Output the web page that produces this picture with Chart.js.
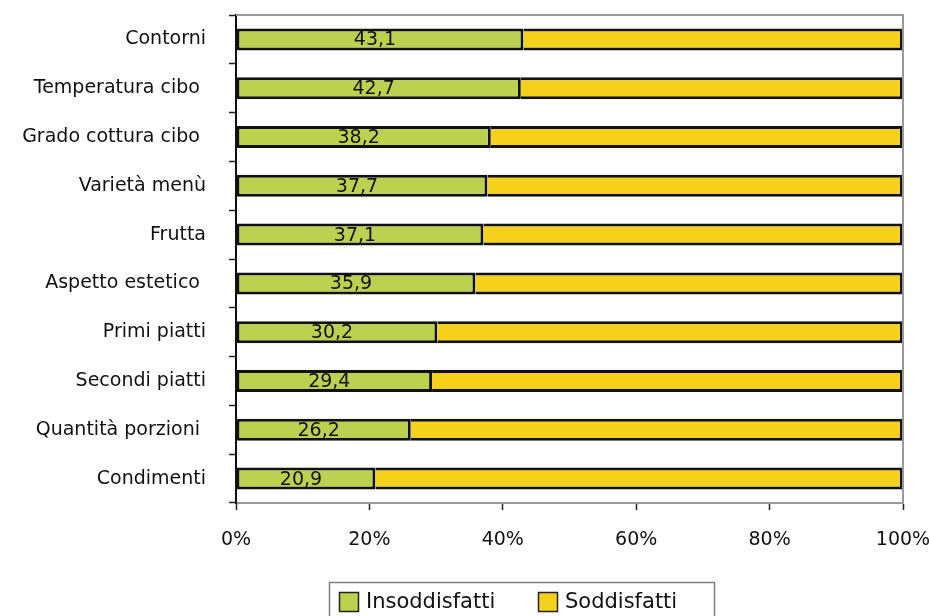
<!DOCTYPE html>
<html>
<head>
<meta charset="utf-8">
<script src="https://cdn.jsdelivr.net/npm/chart.js@4"></script>
<style>
    html, body { margin: 0; padding: 0; background: #fff; }
    #wrap { width: 929px; height: 616px; }
</style>
</head>
<body>
<div id="wrap"><canvas id="chart" width="929" height="616"></canvas></div>
<script>
// Giudizio sul servizio mensa (%)
const categories = [
    'Contorni', 'Temperatura cibo ', 'Grado cottura cibo ', 'Varietà menù',
    'Frutta', 'Aspetto estetico ', 'Primi piatti', 'Secondi piatti',
    'Quantità porzioni ', 'Condimenti'
];
const insoddisfatti = [43.1, 42.7, 38.2, 37.7, 37.1, 35.9, 30.2, 29.4, 26.2, 20.9];
const soddisfatti = [56.9, 57.3, 61.8, 62.3, 62.9, 64.1, 69.8, 70.6, 73.8, 79.1];
const xTicks = [0, 20, 40, 60, 80, 100];

const FONT = 'DejaVu Sans';
const GREEN = '#bcd14f';
const YELLOW = '#f5d11c';

// value labels centred on the first segment, decimal comma
const valueLabels = {
    id: 'valueLabels',
    afterDatasetsDraw(chart) {
        const ctx = chart.ctx;
        const meta = chart.getDatasetMeta(0);
        ctx.save();
        ctx.font = '19px "' + FONT + '"';
        ctx.fillStyle = '#111';
        ctx.textAlign = 'center';
        ctx.textBaseline = 'middle';
        meta.data.forEach((bar, i) => {
            const v = chart.data.datasets[0].data[i];
            const cx = (bar.base + bar.x) / 2 - 5;
            ctx.fillText(v.toFixed(1).replace('.', ','), cx, bar.y + 1);
        });
        ctx.restore();
    }
};

// grey frame on top/right of the plot and a boxed legend below
const frameAndLegend = {
    id: 'frameAndLegend',
    afterDraw(chart) {
        const ctx = chart.ctx;
        const a = chart.chartArea;
        ctx.save();
        ctx.strokeStyle = '#9a9a9a';
        ctx.lineWidth = 2;
        ctx.beginPath();
        ctx.moveTo(a.left, a.top);
        ctx.lineTo(a.right, a.top);
        ctx.lineTo(a.right, a.bottom);
        ctx.stroke();

        // legend box
        ctx.strokeStyle = '#808080';
        ctx.lineWidth = 1.5;
        ctx.strokeRect(329.5, 582.5, 385, 40);

        const items = chart.data.datasets.map(d => ({ label: d.label, color: d.backgroundColor }));
        const pos = [{ box: 339, text: 366 }, { box: 538, text: 565 }];
        ctx.font = '21px "' + FONT + '"';
        ctx.textBaseline = 'middle';
        ctx.textAlign = 'left';
        items.forEach((it, i) => {
            ctx.fillStyle = it.color;
            ctx.fillRect(pos[i].box, 592, 20, 20);
            ctx.strokeStyle = '#222';
            ctx.lineWidth = 1.5;
            ctx.strokeRect(pos[i].box + 0.5, 592.5, 19, 19);
            ctx.fillStyle = '#111';
            ctx.fillText(it.label, pos[i].text, 603);
        });
        ctx.restore();
    }
};

new Chart(document.getElementById('chart').getContext('2d'), {
    type: 'bar',
    data: {
        labels: categories,
        datasets: [{
            label: 'Insoddisfatti',
            data: insoddisfatti,
            backgroundColor: GREEN,
            borderColor: '#111',
            borderWidth: 3,
            borderSkipped: false,
            barPercentage: 0.45,
            categoryPercentage: 1
        }, {
            label: 'Soddisfatti',
            data: soddisfatti,
            backgroundColor: YELLOW,
            borderColor: '#111',
            borderWidth: 3,
            // the green segment's right edge already draws the divider
            borderSkipped: 'start',
            barPercentage: 0.45,
            categoryPercentage: 1
        }]
    },
    options: {
        indexAxis: 'y',
        responsive: false,
        animation: false,
        layout: { padding: { top: 15, right: 26, left: 0, bottom: 0 } },
        plugins: {
            legend: { display: false },
            tooltip: { enabled: false }
        },
        scales: {
            x: {
                stacked: true,
                min: 0,
                max: 100,
                afterBuildTicks(scale) {
                    scale.ticks = xTicks.map(v => ({ value: v }));
                },
                afterFit(scale) {
                    scale.height = 113;
                    scale.paddingLeft = 0;
                    scale.paddingRight = 0;
                },
                ticks: {
                    color: '#111',
                    font: { family: FONT, size: 19 },
                    padding: 19,
                    maxRotation: 0,
                    callback: v => v + '%'
                },
                grid: {
                    drawOnChartArea: false,
                    tickLength: 7,
                    tickColor: '#222',
                    tickWidth: 1.5
                },
                border: { color: '#9a9a9a', width: 2 }
            },
            y: {
                stacked: true,
                afterFit(scale) {
                    scale.width = 236;
                    scale.paddingTop = 0;
                    scale.paddingBottom = 0;
                },
                ticks: {
                    color: '#111',
                    font: { family: FONT, size: 19 },
                    padding: 23
                },
                grid: {
                    offset: true,
                    drawOnChartArea: false,
                    tickLength: 7,
                    tickColor: '#222',
                    tickWidth: 1.5
                },
                border: { color: '#111', width: 2 }
            }
        }
    },
    plugins: [valueLabels, frameAndLegend]
});
</script>
</body>
</html>
